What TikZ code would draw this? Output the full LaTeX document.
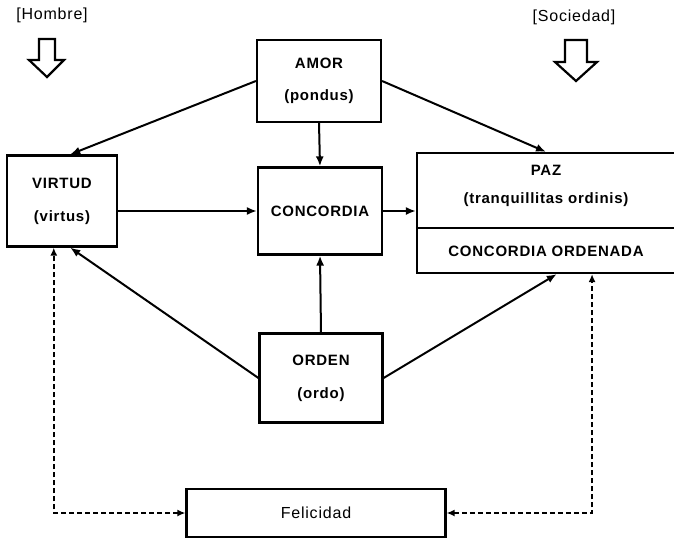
\documentclass[tikz,border=0pt]{standalone}
\usepackage{fontspec}
\setmainfont{Liberation Sans}[LetterSpace=5]
\usetikzlibrary{arrows.meta}
\tikzset{
  caja/.style={draw,line width=2.2pt,inner sep=0pt,align=center,font=\fontsize{15}{18}\selectfont\bfseries},
  texto/.style={inner sep=0pt,align=center,font=\fontsize{15}{18}\selectfont\bfseries},
  flecha/.style={line width=2pt,-{Latex[length=10pt,width=8pt]}},
  punteada/.style={line width=2pt,dash pattern=on 5pt off 3pt,{Latex[length=8pt,width=7pt]}-{Latex[length=8pt,width=7pt]}},
  bloque/.style={line width=2.2pt,line join=miter}
}
\begin{document}
\begin{tikzpicture}[x=1pt,y=-1pt]
\useasboundingbox (0,0) rectangle (674,538);
% cabeceras
\node[font=\fontsize{16}{19}\selectfont] (hombre) at (52,15) {[Hombre]};
\node[font=\fontsize{16}{19}\selectfont] (sociedad) at (574,17) {[Sociedad]};
\draw[bloque] (39,39) -- (55,39) -- (55,60) -- (64,60) -- (47,77) -- (29,60) -- (39,60) -- cycle;
\draw[bloque] (565,40) -- (587,40) -- (587,62) -- (597,62) -- (576,81) -- (555,62) -- (565,62) -- cycle;
% cajas
\node[caja,minimum width=124pt,minimum height=82pt] (amor) at (319,81) {AMOR\\[14pt](pondus)};
\node[caja,minimum width=110pt,minimum height=91pt] (virtud) at (62,201) {VIRTUD\\[15pt](virtus)};
\node[caja,minimum width=124pt,minimum height=87pt] (concordia) at (320,211) {CONCORDIA};
\node[caja,minimum width=258pt,minimum height=120pt] (paz) at (546,213) {};
\node[texto] (paztexto) at (546,186) {PAZ\\[10pt](tranquillitas ordinis)};
\node[texto] (pazorden) at (546,251) {CONCORDIA ORDENADA};
\draw[line width=2.2pt] (paz.west |- 0,228) -- (paz.east |- 0,228);
\node[caja,minimum width=123pt,minimum height=89pt] (orden) at (321,378) {ORDEN\\[15pt](ordo)};
\node[caja,minimum width=259pt,minimum height=48pt,font=\fontsize{16}{19}\selectfont] (felicidad) at (316,513) {Felicidad};
% relaciones
\draw[flecha] (amor.west) -- (virtud.80);
\draw[flecha] (amor.east) -- (paz.north);
\draw[flecha] (amor.south) -- (concordia.north);
\draw[flecha] (virtud.east |- concordia) -- (concordia.west);
\draw[flecha] (concordia.east) -- (concordia.east -| paz.west);
\draw[flecha] (orden.north) -- (concordia.south);
\draw[flecha] (orden.west) -- (virtud.-80);
\draw[flecha] (orden.east) -- (paz.-80);
\draw[punteada] (felicidad.west) -| (virtud.-100);
\draw[punteada] (felicidad.east) -| (paz.-53);
\end{tikzpicture}
\end{document}
